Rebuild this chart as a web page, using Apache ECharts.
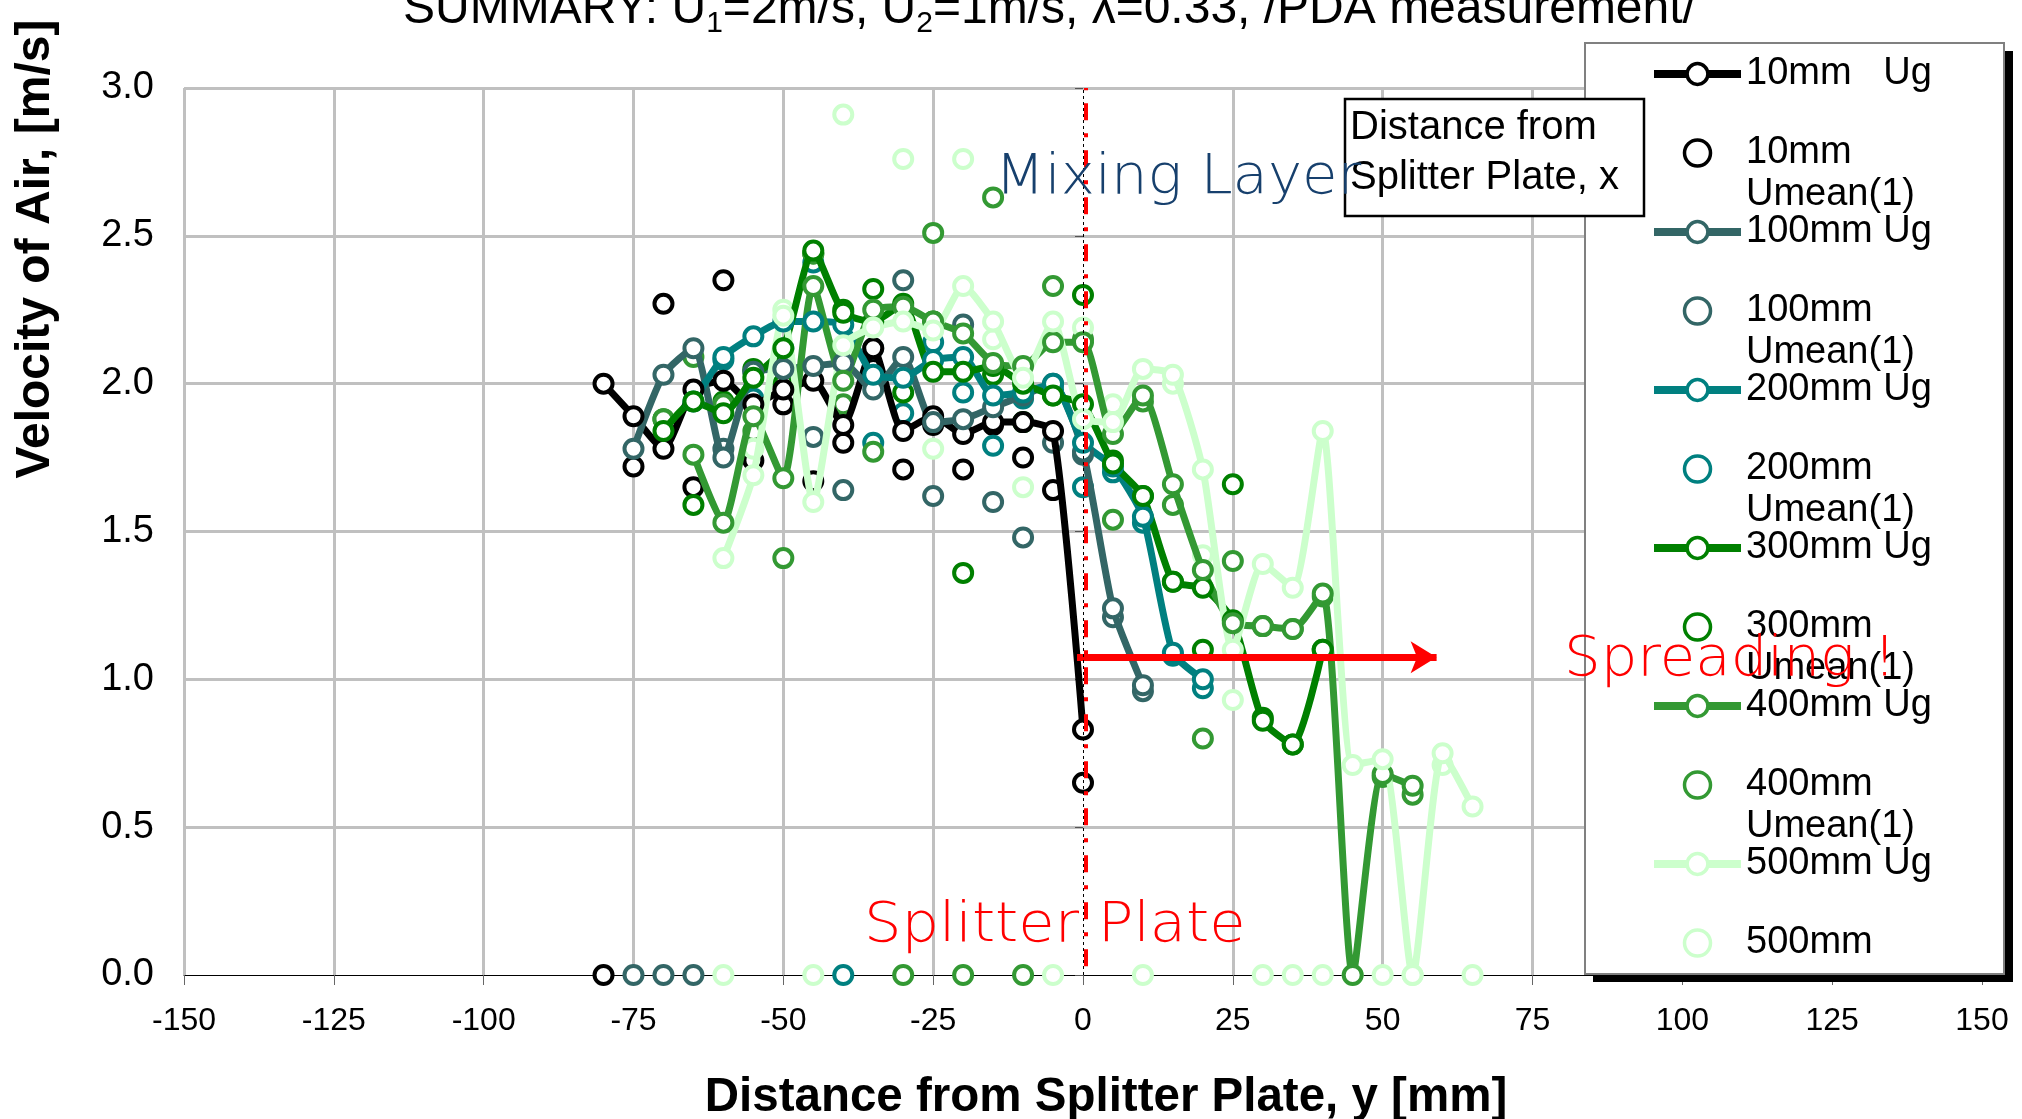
<!DOCTYPE html>
<html>
<head>
<meta charset="utf-8">
<script src="https://cdn.jsdelivr.net/npm/echarts@6/dist/echarts.min.js"></script>
<style>
  html, body { margin: 0; padding: 0; background: #fff; }
  #chart { width: 2022px; height: 1119px; }
</style>
</head>
<body>
<div id="chart"></div>
<script>
// distance from splitter plate, y [mm]
var yPos = [-80, -75, -70, -65, -60, -55, -50, -45, -40, -35, -30, -25, -20, -15, -10, -5,
            0, 5, 10, 15, 20, 25, 30, 35, 40, 45, 50, 55, 60, 65];

// velocities [m/s], one entry per yPos (null = no point)
var ug10  = [2.00, 1.89, 1.78, 1.98, 2.01, 1.93, 1.98, 2.01, 1.86, 2.12, 1.84, 1.89, 1.83, 1.87, 1.87, 1.84,
             0.83, null, null, null, null, null, null, null, null, null, null, null, null, null];
var um10  = [0, 1.72, 2.27, 1.65, 2.35, 1.74, 1.93, 1.67, 1.80, 2.05, 1.71, 1.86, 1.71, 1.86, 1.75, 1.64,
             0.65, null, null, null, null, null, null, null, null, null, null, null, null, null];
var ug100 = [null, 1.78, 2.03, 2.12, 1.75, 2.04, 2.05, 2.06, 2.07, 1.98, 2.09, 1.87, 1.88, 1.92, 1.96, 2.00,
             1.77, 1.24, 0.98, null, null, null, null, null, null, null, null, null, null, null];
var um100 = [null, 0, 0, 0, 1.78, 2.04, 2.09, 1.82, 1.64, 2.12, 2.35, 1.62, 2.20, 1.60, 1.48, 1.80,
             1.76, 1.21, 0.96, null, null, null, null, null, null, null, null, null, null, null];
var ug200 = [null, null, null, 1.94, 2.09, 2.16, 2.21, 2.21, 2.20, 2.03, 2.02, 2.08, 2.09, 1.96, 1.97, 2.00,
             1.80, 1.72, 1.55, 1.09, 1.00, null, null, null, null, null, null, null, null, null];
var um200 = [null, null, null, null, 2.08, 1.95, 2.12, 2.41, 0, 1.80, 1.90, 2.14, 1.97, 1.79, 1.95, 1.98,
             1.65, 1.70, 1.53, 1.08, 0.97, null, null, null, null, null, null, null, null, null];
var ug300 = [null, null, 1.84, 1.94, 1.90, 2.02, 2.12, 2.45, 2.24, 2.21, 2.27, 2.04, 2.04, 2.06, 2.00, 1.96,
             1.93, 1.73, 1.62, 1.33, 1.31, 1.20, 0.86, 0.78, 1.10, null, null, null, null, null];
var um300 = [null, null, 1.88, 1.59, 1.94, 2.05, 2.00, 2.44, 2.25, 2.32, 1.97, 2.21, 1.36, 2.03, 1.87, 1.96,
             2.30, 1.74, 1.62, 1.33, 1.10, 1.66, 0.87, 0.78, 1.10, null, null, null, null, null];
var ug400 = [null, null, null, 1.76, 1.53, 1.89, 1.68, 2.33, 2.01, 2.25, 2.26, 2.21, 2.17, 2.07, 2.06, 2.14,
             2.14, 1.83, 1.96, 1.66, 1.37, 1.19, 1.18, 1.17, 1.29, 0, 0.68, 0.64, null, null];
var um400 = [null, null, 1.88, 2.09, 1.93, 1.84, 1.41, 2.44, 1.93, 1.77, 0, 2.51, 0, 2.63, 0, 2.33,
             2.15, 1.54, 1.94, 1.59, 0.80, 1.40, 1.18, 1.17, 1.28, null, 0.67, 0.61, null, null];
var ug500 = [null, null, null, null, 1.41, 1.69, 2.23, 1.60, 2.13, 2.19, 2.21, 2.18, 2.33, 2.21, 2.02, 2.21,
             1.88, 1.87, 2.05, 2.03, 1.71, 1.10, 1.39, 1.31, 1.84, 0.71, 0.73, 0, 0.75, 0.57];
var um500 = [null, null, null, null, 0, 1.78, 2.25, 0, 2.91, 2.20, 2.76, 1.78, 2.76, 2.15, 1.65, 0,
             2.19, 1.93, 0, 2.00, 1.42, 0.93, 0, 0, 0, 0, 0, 0, 0.71, 0];

var xTicks = [-150, -125, -100, -75, -50, -25, 0, 25, 50, 75, 100, 125, 150];

var defs = [
  { name: '10mm   Ug',      color: '#000000', vals: ug10,  line: true },
  { name: '10mm Umean(1)',  color: '#000000', vals: um10 },
  { name: '100mm Ug',       color: '#336666', vals: ug100, line: true },
  { name: '100mm Umean(1)', color: '#336666', vals: um100 },
  { name: '200mm Ug',       color: '#008080', vals: ug200, line: true },
  { name: '200mm Umean(1)', color: '#008080', vals: um200 },
  { name: '300mm Ug',       color: '#008000', vals: ug300, line: true },
  { name: '300mm Umean(1)', color: '#008000', vals: um300 },
  { name: '400mm Ug',       color: '#339933', vals: ug400, line: true },
  { name: '400mm Umean(1)', color: '#339933', vals: um400 },
  { name: '500mm Ug',       color: '#CCFFCC', vals: ug500, line: true },
  { name: '500mm Umean(1)', color: '#CCFFCC', vals: um500 }
];

function pairs(vals) {
  var out = [];
  for (var i = 0; i < yPos.length; i++) {
    if (vals[i] != null) out.push([yPos[i], vals[i]]);
  }
  return out;
}

var FONT = 'Liberation Sans, Arial, sans-serif';
var NOTE = 'DejaVu Sans, sans-serif';
var GRID = '#c0c0c0';

var series = defs.map(function (d) {
  var s = {
    name: d.name,
    data: pairs(d.vals),
    symbol: 'circle',
    symbolSize: 18,
    itemStyle: { color: '#fff', borderColor: d.color, borderWidth: 4, opacity: 1 },
    emphasis: { disabled: true },
    silent: true
  };
  if (d.line) {
    s.type = 'line';
    s.smooth = 0.2;
    s.showAllSymbol = true;
    s.lineStyle = { width: 7, color: d.color };
  } else {
    s.type = 'scatter';
  }
  return s;
});

// reference lines at the splitter plate and the spreading arrow
series[10].markLine = {
  silent: true,
  symbol: ['none', 'arrow'],
  symbolSize: [24, 26],
  label: { show: false },
  lineStyle: { color: '#ff0000', width: 7, type: 'solid' },
  data: [[{ coord: [-1, 1.075] }, { coord: [59, 1.075] }]]
};
series[11].markLine = {
  silent: true,
  symbol: ['none', 'none'],
  label: { show: false },
  data: [
    [{ coord: [0, 0], lineStyle: { color: '#000', width: 1, type: [3, 3] } }, { coord: [0, 3] }],
    [{ coord: [0.45, 0.03], lineStyle: { color: '#ff0000', width: 4, type: [17, 13, 4, 13] } }, { coord: [0.45, 3] }]
  ]
};

var xLineColors = xTicks.map(function (t) { return t === 0 ? 'rgba(0,0,0,0)' : GRID; });

var chart = echarts.init(document.getElementById('chart'));
chart.setOption({
  backgroundColor: '#fff',
  animation: false,
  title: {
    text: 'SUMMARY: U{s|1}=2m/s, U{s|2}=1m/s, \u03bb=0.33, /PDA measurement/',
    left: 398,
    top: -24,
    textStyle: {
      fontFamily: FONT, fontSize: 48, fontWeight: 'normal', color: '#000',
      rich: { s: { fontFamily: FONT, fontSize: 30, color: '#000', padding: [28, 0, 0, 0] } }
    }
  },
  grid: { left: 184, right: 40, top: 88, bottom: 144 },
  xAxis: {
    type: 'value',
    min: -150, max: 150, interval: 25,
    axisLine: { onZero: false, lineStyle: { color: '#000', width: 1 } },
    axisTick: { length: 10, lineStyle: { color: '#666' } },
    axisLabel: { fontFamily: FONT, fontSize: 32, color: '#000', margin: 30 },
    splitLine: { show: true, lineStyle: { color: xLineColors, width: 3 } }
  },
  yAxis: {
    type: 'value',
    min: 0, max: 3, interval: 0.5,
    axisLine: { show: false },
    axisTick: { show: true, length: 8, lineStyle: { color: '#555' } },
    axisLabel: {
      fontFamily: FONT, fontSize: 38, color: '#000', margin: 30,
      formatter: function (v) { return v.toFixed(1); }
    },
    splitLine: { show: true, lineStyle: { color: ['rgba(0,0,0,0)', GRID, GRID, GRID, GRID, GRID, GRID], width: 3 } }
  },
  legend: {
    orient: 'vertical',
    left: 1650,
    top: 53,
    padding: 0,
    itemGap: -5,
    itemWidth: 87,
    itemHeight: 26,
    selectedMode: false,
    z: 5,
    data: defs.map(function (d) { return d.name; }),
    itemStyle: { borderWidth: 3.5, opacity: 1 },
    lineStyle: { width: 8 },
    textStyle: { fontFamily: FONT, fontSize: 38, lineHeight: 42, color: '#000' },
    formatter: function (name) {
      if (name.indexOf('Umean') < 0) return name;
      var parts = name.split(' ');
      if (name === '500mm Umean(1)') return '\u00a0\n' + parts[0] + '\n\u00a0';
      return '\u00a0\n' + parts[0] + '\n' + parts[1];
    }
  },
  graphic: [
    { type: 'rect', z: 3, silent: true, shape: { x: 1593, y: 51, width: 420, height: 931 }, style: { fill: '#000' } },
    { type: 'rect', z: 4, silent: true, shape: { x: 1585, y: 43, width: 419, height: 931 }, style: { fill: '#fff', stroke: '#808080', lineWidth: 2 } },
    { type: 'rect', z: 8, silent: true, shape: { x: 1345, y: 99, width: 299, height: 117 }, style: { fill: '#fff', stroke: '#000', lineWidth: 2.5 } },
    { type: 'text', z: 9, silent: true, x: 1350, y: 103,
      style: { text: 'Distance from\nSplitter Plate, x', font: '40px ' + FONT, lineHeight: 50, fill: '#000', verticalAlign: 'top' } },
    { type: 'text', z: 9, silent: true, x: 995, y: 178, scaleX: 1.03,
      style: { text: 'Mixing Layer', font: '200 56px ' + NOTE, fill: '#17406d', verticalAlign: 'middle' } },
    { type: 'text', z: 9, silent: true, x: 864, y: 927, scaleX: 1.075,
      style: { text: 'Splitter Plate', font: '200 55px ' + NOTE, fill: '#ff0000', verticalAlign: 'middle' } },
    { type: 'text', z: 9, silent: true, x: 1564, y: 661, scaleX: 1.05,
      style: { text: 'Spreading !', font: '200 55px ' + NOTE, fill: '#ff0000', verticalAlign: 'middle' } },
    { type: 'text', z: 9, silent: true, x: 36, y: 249, rotation: Math.PI / 2,
      style: { text: 'Velocity of Air, [m/s]', font: 'bold 48px ' + FONT, fill: '#000', align: 'center', verticalAlign: 'middle' } },
    { type: 'text', z: 9, silent: true, x: 1106, y: 1098,
      style: { text: 'Distance from Splitter Plate, y [mm]', font: 'bold 47.5px ' + FONT, fill: '#000', align: 'center', verticalAlign: 'middle' } }
  ],
  series: series
});
</script>
</body>
</html>
